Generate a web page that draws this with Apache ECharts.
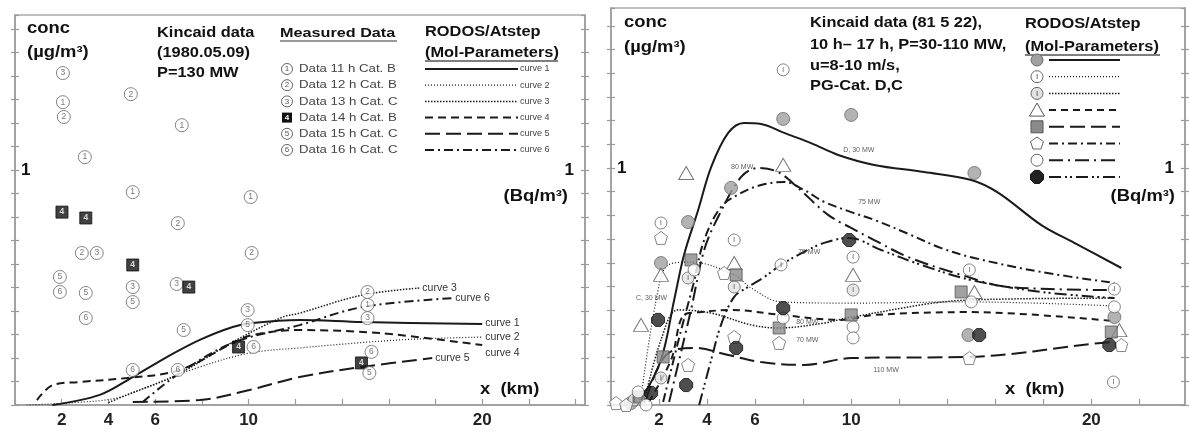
<!DOCTYPE html>
<html><head><meta charset="utf-8">
<script src="https://cdn.jsdelivr.net/npm/echarts@6/dist/echarts.min.js"></script>
<style>html,body{margin:0;padding:0;background:#fff}#c{width:1189px;height:433px}</style>
</head><body><div id="c"></div>
<script>
// ---------- tick labels ----------
const xTickLabels = [2, 4, 6, 10, 20];
const yLabelAt = 10, yLabelText = '1';

// ---------- Panel 1 : measured data (x km, concentration in axis units) ----------
const p1Names = ['Data 11 h Cat. B','Data 12 h Cat. B','Data 13 h Cat. C','Data 14 h Cat. B','Data 15 h Cat. C','Data 16 h Cat. C'];
const p1d11 = [[2.05,12.89],[2.99,10.55],[5.04,9.06],[7.14,11.91],[10.09,8.85],[15.09,4.26]];
const p1d12 = [[2.09,12.26],[2.86,6.47],[4.96,13.23],[6.97,7.74],[10.13,6.47],[15.09,4.81]];
const p1d13 = [[2.05,14.13],[3.50,6.47],[5.04,5.02],[6.92,5.15],[9.96,4.04],[15.09,3.70]];
const p1d14 = [[2.01,8.21],[3.03,7.96],[5.04,5.96],[7.44,5.02],[9.57,2.47],[14.83,1.79]];
const p1d15 = [[1.92,5.45],[3.03,4.77],[5.04,4.38],[7.22,3.19],[9.96,3.40],[15.17,1.36]];
const p1d16 = [[1.92,4.81],[3.03,3.70],[5.04,1.49],[6.97,1.49],[10.21,2.47],[15.26,2.26]];

// ---------- Panel 1 : model curves ----------
const p1c1 = [[1.6,0],[3.63,0.43],[5.04,1.19],[6.5,2.04],[7.91,2.77],[9.32,3.32],[10.17,3.49],[12.18,3.62],[14.87,3.53],[20.0,3.45]];
const p1c2 = [[0.5,0],[2.5,0.1],[4.36,0.3],[6.0,0.9],[7.91,1.62],[10.04,2.21],[12.18,2.43],[16.45,2.77],[20.0,2.89]];
const p1c3 = [[4.0,0.1],[4.79,0.43],[6.92,1.28],[9.32,2.68],[11.45,3.74],[12.18,3.91],[14.87,4.68],[17.31,4.98]];
const p1c4 = [[0.94,0.21],[1.62,0.85],[2.78,0.98],[4.79,1.15],[7.05,1.49],[9.32,2.64],[10.17,2.98],[12.18,3.19],[15.6,3.06],[20.0,2.55]];
const p1c5 = [[5.04,0.13],[7.91,0.21],[10.04,0.64],[12.18,1.19],[14.87,1.62],[17.86,2.0]];
const p1c6 = [[5.47,0.13],[7.05,1.36],[9.32,2.64],[12.18,3.40],[14.87,4.17],[18.72,4.55]];
const p1CurveNames = ['curve 1','curve 2','curve 3','curve 4','curve 5','curve 6'];

// ---------- Panel 2 : measured data ----------
const p2m1 = [[0.83,0.08],[2.08,5.99],[3.21,7.72],[5.0,9.16],[7.17,12.07],[10.0,12.24],[15.13,9.79],[14.88,2.95],[20.96,3.71]];
const p2m2 = [[7.17,14.14],[2.08,7.68],[5.13,6.96],[7.08,5.91],[10.08,6.24],[14.92,5.70],[20.96,4.89],[20.92,0.97]];
const p2m3 = [[3.21,5.36],[5.13,4.98],[10.08,4.85],[2.08,1.14],[0.96,0.21]];
const p2m4 = [[3.13,9.79],[7.17,10.13],[2.08,5.49],[1.25,3.38],[5.13,5.99],[10.08,5.49],[15.13,4.77],[21.17,3.16]];
const p2m5 = [[3.33,6.12],[5.21,5.49],[7.0,3.25],[2.17,2.03],[10.0,3.80],[14.58,4.77],[20.83,3.08],[1.17,0.34]];
const p2m6 = [[2.08,7.05],[4.71,5.57],[7.0,2.62],[3.21,1.69],[5.13,2.87],[14.92,1.98],[21.25,2.53],[0.21,0.08],[0.63,0.0]];
const p2m7 = [[3.46,5.70],[7.17,3.67],[10.08,3.29],[10.08,2.83],[15.0,4.35],[20.96,4.14],[1.13,0.55],[1.46,0.0]];
const p2m8 = [[1.96,3.59],[1.67,0.51],[3.13,0.84],[5.21,2.41],[7.17,4.09],[9.92,6.96],[15.33,2.95],[20.75,2.53]];

// ---------- Panel 2 : model curves ----------
const p2c1 = [[1.25,0.21],[2.08,1.90],[2.63,4.43],[3.04,6.33],[3.63,8.23],[4.17,10.04],[4.88,11.48],[5.54,11.90],[6.25,11.86],[7.21,11.48],[8.33,11.05],[9.46,10.55],[10.96,10.13],[13.04,9.83],[15.0,9.49],[16.13,8.95],[17.92,7.59],[19.29,6.84],[21.25,5.78]];
const p2c2 = [[1.25,0.30],[1.88,4.43],[2.38,5.91],[3.33,6.03],[5.13,5.49],[5.83,4.94],[7.08,4.35],[10.0,4.30],[14.88,4.35],[20.96,4.18]];
const p2c3 = [[1.38,0.13],[2.08,2.74],[2.79,4.01],[4.17,3.88],[5.83,3.38],[6.96,3.25],[8.88,3.46],[10.0,3.71],[14.88,4.43],[20.96,4.51]];
const p2c4 = [[1.58,0.13],[2.5,1.90],[3.04,3.80],[3.75,3.92],[5.0,4.01],[7.08,3.80],[9.58,3.59],[10.96,3.80],[14.88,3.92],[20.96,3.54]];
const p2c5 = [[1.46,0.21],[2.29,2.11],[3.46,2.41],[4.88,2.11],[6.25,1.81],[8.04,1.69],[10.0,1.98],[14.88,2.03],[20.42,2.62],[20.96,2.66]];
const p2c6 = [[2.17,0.13],[2.92,3.16],[3.42,5.06],[3.88,6.96],[4.58,8.35],[5.42,8.95],[6.25,9.28],[7.21,9.41],[8.04,9.07],[8.88,8.57],[10.0,8.14],[10.96,7.81],[12.38,7.22],[13.75,6.62],[15.13,6.20],[17.92,5.61],[20.96,5.15]];
const p2c7 = [[2.42,0.13],[3.33,4.01],[3.88,6.54],[4.46,7.93],[5.42,9.62],[6.13,10.0],[6.96,9.83],[7.79,9.16],[9.04,8.02],[10.0,7.47],[10.96,6.96],[12.38,6.24],[14.58,5.49],[16.54,4.98],[20.96,4.85]];
const p2c8 = [[3.67,0],[4.17,1.90],[4.58,3.38],[5.13,4.56],[5.71,4.98],[6.38,5.40],[7.08,5.91],[8.04,6.46],[8.88,6.84],[9.92,7.05],[11.25,6.54],[12.92,5.91],[15.0,5.27],[17.92,4.77],[20.96,4.51]];
const p2Notes = ['D, 30 MW','80 MW','75 MW','75 MW','C, 30 MW','80 MW','70 MW','110 MW'];
const p2NoteAt = [[9.67,10.76],[5.0,10.04],[10.29,8.57],[7.79,6.46],[1.04,4.51],[7.71,3.50],[7.71,2.74],[10.92,1.48]];

// ================= styling / layout =================
const F = "'Liberation Sans', Arial, Helvetica, sans-serif";
const AX = '#9a9a9a';
const dashes1 = ['solid',[1,2],[1.5,1.5],[8,5],[15,6],[9,4,2,4]];
const widths1 = [2,1.2,1.5,2,2,2];
const dashes2 = ['solid',[1,2],[1.5,1.5],[7,5],[15,6],[9,4,2,4],[14,5,2,5],[12,4,2,3,2,4]];
const widths2 = [2,1.2,1.5,2,2,2,2,2];

const grids = [
  {left:15, top:15, width:570, height:390, show:true, borderColor:'#aaa', borderWidth:1.5},
  {left:611, top:8, width:574, height:397, show:true, borderColor:'#aaa', borderWidth:1.5}
];
const xMax = [24.4, 23.9];
const yMax = [16.6, 16.75];

function xAxis(g){
  return {type:'value', gridIndex:g, min:0, max:xMax[g], interval:2, position:'bottom',
    axisLine:{show:true, lineStyle:{color:AX, width:1.5}},
    axisTick:{show:true, inside:true, length:6, lineStyle:{color:AX, width:1.2}},
    splitLine:{show:false},
    axisLabel:{show:true, margin:7, color:'#222', fontFamily:F, fontWeight:'bold', fontSize:17,
      showMaxLabel:false, formatter:v => xTickLabels.includes(v) ? String(v) : ''}};
}
function yAxes(g){
  const base = {type:'value', gridIndex:g, min:0, max:yMax[g], interval:1, splitLine:{show:false}};
  const lab = {show:true, inside:true, color:'#111', fontFamily:F, fontWeight:'bold', fontSize:17,
      showMaxLabel:false, formatter:v => v === yLabelAt ? yLabelText : ''};
  return [
    Object.assign({}, base, {position:'left', axisLine:{show:true, onZero:false, lineStyle:{color:AX,width:1.5}},
      axisTick:{show:true, length:4, lineStyle:{color:AX,width:1.2}}, axisLabel:Object.assign({margin:6}, lab)}),
    Object.assign({}, base, {position:'left', axisLine:{show:false}, axisTick:{show:true, inside:true, length:4, lineStyle:{color:AX,width:1.2}}, axisLabel:{show:false}}),
    Object.assign({}, base, {position:'right', axisLine:{show:true, onZero:false, lineStyle:{color:AX,width:1.5}},
      axisTick:{show:true, length:4, lineStyle:{color:AX,width:1.2}}, axisLabel:Object.assign({margin:11}, lab)}),
    Object.assign({}, base, {position:'right', axisLine:{show:false}, axisTick:{show:true, inside:true, length:4, lineStyle:{color:AX,width:1.2}}, axisLabel:{show:false}})
  ];
}

const series = [];
const endOffsets = [[0,-1],[0,0],[0,0],[0,8],[0,0],[0,0]];
// panel 1 curves
[p1c1,p1c2,p1c3,p1c4,p1c5,p1c6].forEach((d,i) => {
  series.push({type:'line', xAxisIndex:0, yAxisIndex:0, data:d, smooth:0.35, symbol:'none', z:2,
    lineStyle:{color:'#1a1a1a', width:widths1[i], type:dashes1[i]},
    endLabel:{show:true, formatter:p1CurveNames[i], fontFamily:F, fontSize:10.5, color:'#333', distance:3, offset:endOffsets[i]}});
});
// panel 1 markers
[p1d11,p1d12,p1d13,p1d14,p1d15,p1d16].forEach((d,i) => {
  const sq = i === 3;
  series.push({type:'scatter', name:p1Names[i], xAxisIndex:0, yAxisIndex:0, data:d, z:5,
    symbol: sq ? 'rect' : 'circle', symbolSize: sq ? 12 : 13,
    itemStyle: sq ? {color:'#111', borderColor:'#111', borderWidth:1} : {color:'#fff', borderColor:'#666', borderWidth:1},
    label:{show:true, position:'inside', formatter:String(i+1), fontFamily:F, fontSize:8.5, fontWeight: sq ? 'bold':'normal', color: sq ? '#fff' : '#555'}});
});
// panel 2 curves
[p2c1,p2c2,p2c3,p2c4,p2c5,p2c6,p2c7,p2c8].forEach((d,i) => {
  series.push({type:'line', xAxisIndex:1, yAxisIndex:4, data:d, smooth:0.35, symbol:'none', z:2,
    lineStyle:{color:'#1a1a1a', width:widths2[i], type:dashes2[i]}});
});
// panel 2 markers
const P_PENT = 'path://M0,-10L9.5,-3.1L5.9,8.1L-5.9,8.1L-9.5,-3.1Z';
const P_OCT = 'path://M-4,-10L4,-10L10,-4L10,4L4,10L-4,10L-10,4L-10,-4Z';
const p2Sym = [
  {symbol:'circle', size:13, st:{color:'#a0a0a0', borderColor:'#6a6a6a', borderWidth:1}},
  {symbol:'circle', size:12, st:{color:'#fff', borderColor:'#666', borderWidth:1}, lab:'I'},
  {symbol:'circle', size:12, st:{color:'#e2e2e2', borderColor:'#666', borderWidth:1}, lab:'I'},
  {symbol:'triangle', size:[15,13], st:{color:'#fff', borderColor:'#555', borderWidth:1}},
  {symbol:'rect', size:12, st:{color:'#8a8a8a', borderColor:'#555', borderWidth:1}},
  {symbol:P_PENT, size:13, st:{color:'#fff', borderColor:'#666', borderWidth:1}},
  {symbol:'circle', size:12, st:{color:'#fff', borderColor:'#666', borderWidth:1}},
  {symbol:P_OCT, size:13, st:{color:'#222', borderColor:'#111', borderWidth:1}}
];
[p2m1,p2m2,p2m3,p2m4,p2m5,p2m6,p2m7,p2m8].forEach((d,i) => {
  const s = p2Sym[i];
  series.push({type:'scatter', xAxisIndex:1, yAxisIndex:4, data:d, z:5, symbol:s.symbol, symbolSize:s.size, itemStyle:s.st,
    label:{show:!!s.lab, position:'inside', formatter:s.lab||'', fontFamily:F, fontSize:8, color:'#444'}});
});
// panel 2 annotations
series.push({type:'scatter', xAxisIndex:1, yAxisIndex:4, symbolSize:0, z:6, silent:true,
  data:p2Notes.map((n,i) => ({name:n, value:p2NoteAt[i]})),
  label:{show:true, position:'right', distance:0, formatter:'{b}', fontFamily:F, fontSize:7, color:'#333'}});

// ---------- texts & legends (graphic) ----------
const G = [];
function T(x,y,text,font,extra,sx){ G.push({type:'text', x, y, z:100, scaleX: sx || 1, style:Object.assign({text, font, fill:'#111', verticalAlign:'middle', align:'left'}, extra||{})}); }
function L(x1,y1,x2,y2,dash,w,col){ G.push({type:'line', z:100, shape:{x1,y1,x2,y2}, style:{stroke:col||'#1a1a1a', lineWidth:w||1.5, lineDash: dash==='solid' ? null : dash}}); }
const BIG = 'bold 16px ' + F, MID = 'bold 14.5px ' + F;
const SB = 1.15, SM = 1.13;

// panel 1 texts
T(27,29,'conc',BIG,null,SB); T(27,53,'(µg/m³)',BIG,null,SB);
T(157,33,'Kincaid data',MID,null,SM); T(157,53,'(1980.05.09)',MID,null,SM); T(157,73,'P=130 MW',MID,null,SM);
T(280,33,'Measured Data','bold 13.5px '+F,null,1.2); L(280,41,397,41,'solid',2,'#999');
T(425,32,'RODOS/Atstep',MID,null,SM); T(425,53,'(Mol-Parameters)',MID,null,SM); L(425,61,558,61,'solid',1.5,'#555');
T(568,197,'(Bq/m³)',BIG,{align:'right'},SB);
T(480,390,'x  (km)',BIG,null,SB);
for (let i=0;i<6;i++){
  const y = 69 + i*16.2;
  if (i===3){
    G.push({type:'rect', z:100, shape:{x:282,y:y-5,width:10,height:10}, style:{fill:'#111'}});
    T(287,y,'4','bold 8px '+F,{fill:'#fff',align:'center'});
  } else {
    G.push({type:'circle', z:100, shape:{cx:287,cy:y,r:5.5}, style:{fill:'#fff',stroke:'#666',lineWidth:1}});
    T(287,y,String(i+1),'8px '+F,{fill:'#555',align:'center'});
  }
  T(299,y,p1Names[i],'11.5px '+F,{fill:'#444'},1.15);
  L(425,y,518,y,dashes1[i],widths1[i]);
  T(520,y,p1CurveNames[i],'9px '+F,{fill:'#444'});
}

// panel 2 texts
T(624,23,'conc',BIG,null,SB); T(624,48,'(µg/m³)',BIG,null,SB);
T(810,23,'Kincaid data (81 5 22),',MID,null,SM); T(810,45,'10 h– 17 h, P=30-110 MW,',MID,null,SM);
T(810,66,'u=8-10 m/s,',MID,null,SM); T(810,86,'PG-Cat. D,C',MID,null,SM);
T(1025,24,'RODOS/Atstep',MID,null,SM); T(1025,47,'(Mol-Parameters)',MID,null,SM); L(1025,55,1160,55,'solid',1.5,'#555');
T(1175,197,'(Bq/m³)',BIG,{align:'right'},SB);
T(1005,390,'x  (km)',BIG,null,SB);
for (let i=0;i<8;i++){
  const y = 60 + i*16.7, cx = 1037, s = p2Sym[i];
  const st = {fill:s.st.color, stroke:s.st.borderColor, lineWidth:1};
  if (s.symbol==='circle') G.push({type:'circle', z:100, shape:{cx, cy:y, r:6}, style:st});
  else if (s.symbol==='rect') G.push({type:'rect', z:100, shape:{x:cx-6,y:y-6,width:12,height:12}, style:st});
  else if (s.symbol==='triangle') G.push({type:'polygon', z:100, shape:{points:[[cx,y-7],[cx+7.5,y+6],[cx-7.5,y+6]]}, style:st});
  else if (i===5) G.push({type:'polygon', z:100, shape:{points:[[cx,y-6.5],[cx+6.5,y-2],[cx+4,y+5.5],[cx-4,y+5.5],[cx-6.5,y-2]]}, style:st});
  else G.push({type:'polygon', z:100, shape:{points:[[cx-2.6,y-6.5],[cx+2.6,y-6.5],[cx+6.5,y-2.6],[cx+6.5,y+2.6],[cx+2.6,y+6.5],[cx-2.6,y+6.5],[cx-6.5,y+2.6],[cx-6.5,y-2.6]]}, style:st});
  if (s.lab) T(cx,y,s.lab,'8px '+F,{fill:'#444',align:'center'});
  L(1049,y,1120,y,dashes2[i],widths2[i]);
}

const option = {
  backgroundColor:'#fff',
  animation:false,
  grid:grids,
  xAxis:[xAxis(0), xAxis(1)],
  yAxis:[...yAxes(0), ...yAxes(1)],
  series,
  graphic:G
};
const chart = echarts.init(document.getElementById('c'), null, {renderer:'canvas'});
chart.setOption(option);
</script></body></html>
